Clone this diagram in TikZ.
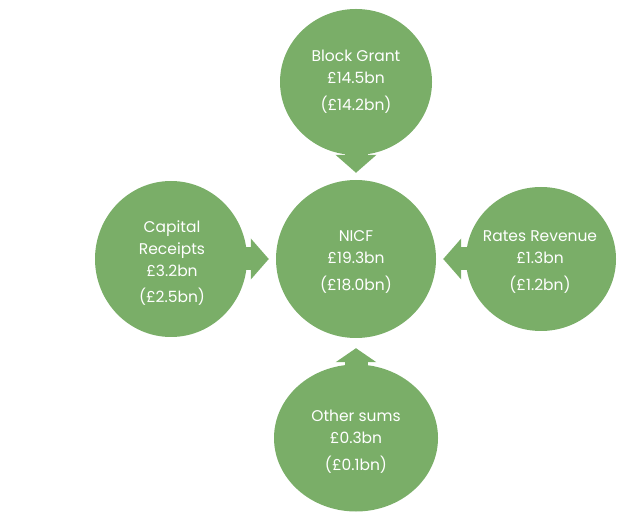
\documentclass[tikz,border=0pt]{standalone}
\usepackage{fontspec}
\setmainfont{Poppins}
\usepackage{tikz}
\usetikzlibrary{arrows.meta, shapes.geometric, positioning}
\definecolor{LeafGreen}{RGB}{122,174,104}

\begin{document}
\begin{tikzpicture}[x=1pt, y=1pt,
	bubble/.style={ellipse, fill=LeafGreen, draw=none, inner sep=0pt},
	bubbletext/.style={text=white, align=center, font=\fontsize{15.5}{22}\selectfont},
	flow/.style={LeafGreen, line width=23pt,
		-{Triangle[width=40pt, length=18pt]},
		shorten <=-12pt, shorten >=7pt}]
	\useasboundingbox (0,0) rectangle (620,522);

	% burbujas
	\node[bubble, minimum width=160pt, minimum height=158pt] (nicf) at (356,263) {};
	\node[bubble, minimum width=152pt, minimum height=146pt] (grant) at (356,440) {};
	\node[bubble, minimum width=152pt, minimum height=156pt] (capital) at (171,263) {};
	\node[bubble, minimum width=150pt, minimum height=144pt] (rates) at (541,263) {};
	\node[bubble, minimum width=164pt, minimum height=147pt] (other) at (356,84) {};

	% textos
	\node[bubbletext] (nicftxt) at (356,260) {NICF\\\pounds19.3bn\\[5pt](\pounds18.0bn)};
	\node[bubbletext] (granttxt) at (356,440) {Block Grant\\\pounds14.5bn\\[5pt](\pounds14.2bn)};
	\node[bubbletext] (capitaltxt) at (172,259) {Capital\\Receipts\\\pounds3.2bn\\[4pt](\pounds2.5bn)};
	\node[bubbletext] (ratestxt) at (540,260) {Rates Revenue\\\pounds1.3bn\\[5pt](\pounds1.2bn)};
	\node[bubbletext] (othertxt) at (356,80) {Other sums\\\pounds0.3bn\\[5pt](\pounds0.1bn)};

	% flechas hacia el centro
	\draw[flow] (grant) -- (nicf);
	\draw[flow] (capital) -- (nicf);
	\draw[flow] (rates) -- (nicf);
	\draw[flow, -{Triangle[width=40pt, length=14pt]}, shorten >=10pt] (other) -- (nicf);
\end{tikzpicture}
\end{document}
